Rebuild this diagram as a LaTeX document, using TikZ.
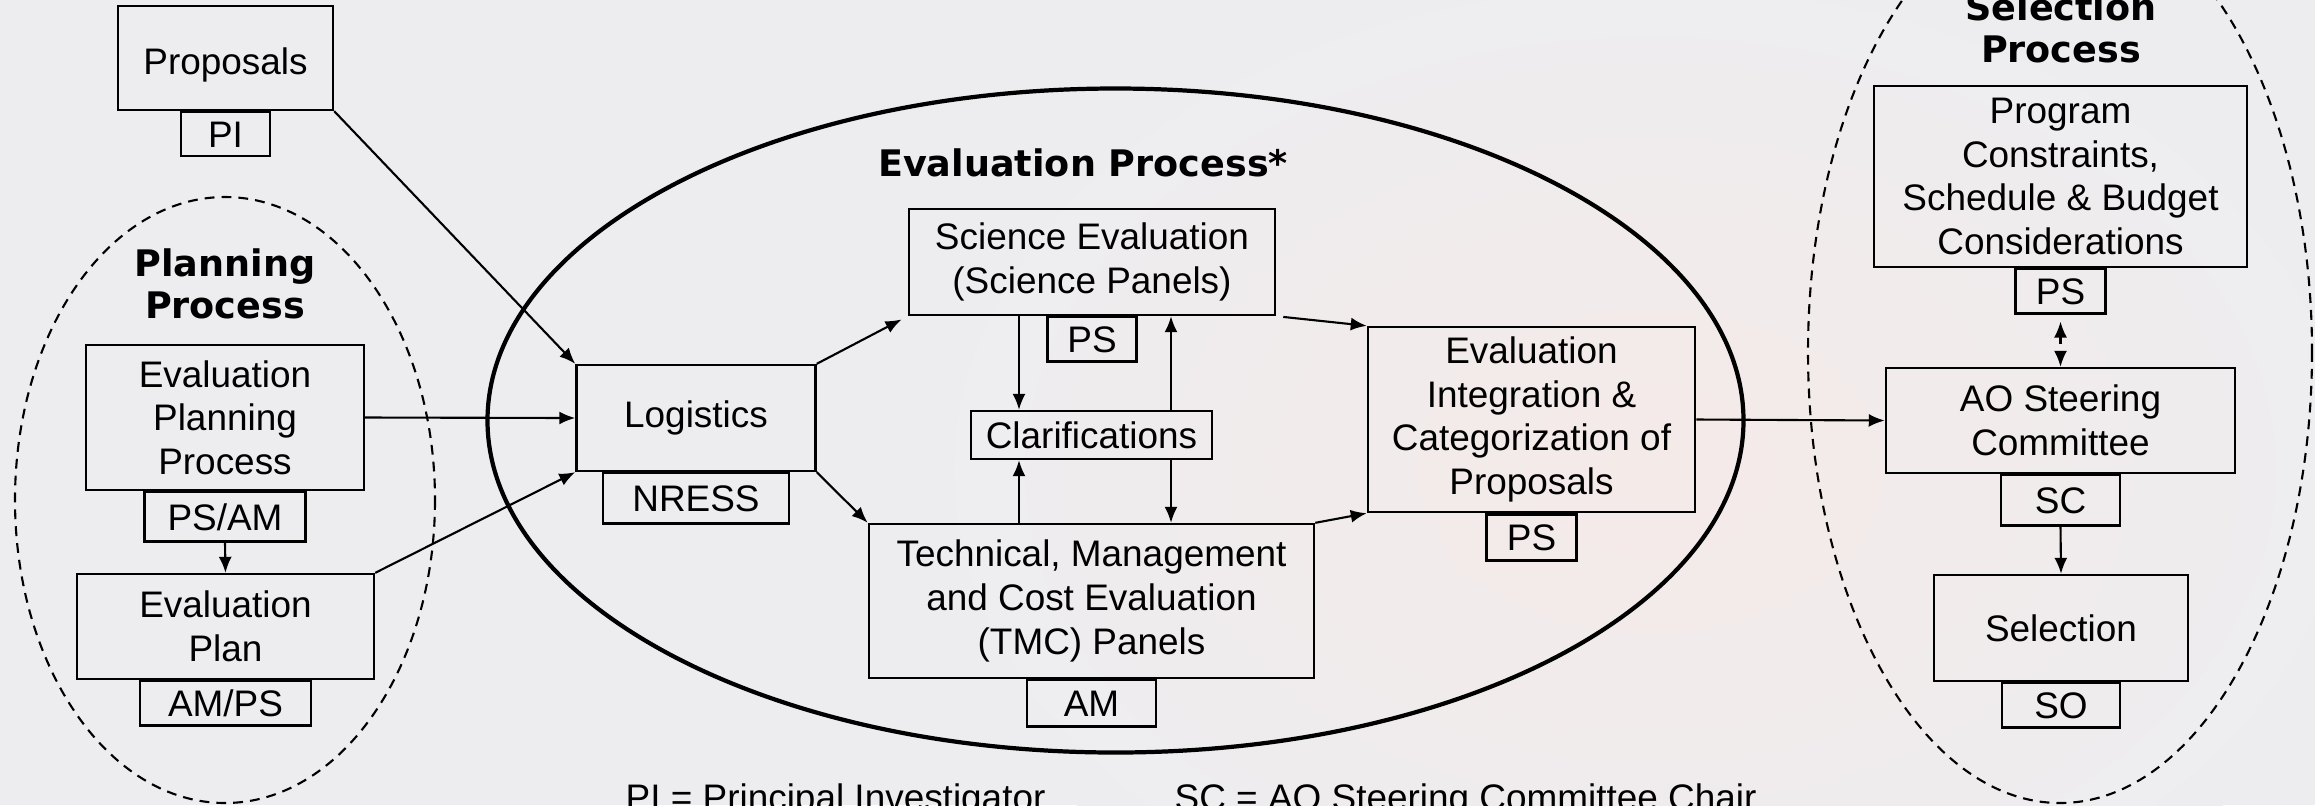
\documentclass[tikz,border=0pt]{standalone}
\usepackage{fontspec}
\setmainfont{Liberation Sans}
\newfontfamily\headfont{DejaVu Sans}
\usetikzlibrary{positioning,arrows.meta}
\definecolor{bggray}{RGB}{237,237,240}
\definecolor{bgpink}{RGB}{244,234,232}
\tikzset{
  box/.style={draw,line width=0.65pt,align=center,inner sep=0pt,
    font=\fontsize{10.5}{12.4}\selectfont},
  tag/.style={box,below=0pt of #1},
  tip/.tip={Latex[length=0.16cm,width=0.13cm]},
  arr/.style={-tip,line width=0.6pt},
  head/.style={font=\headfont\bfseries\fontsize{10.4}{11.9}\selectfont,
    align=center,inner sep=0pt},
  proc/.style={line width=0.6pt,dash pattern=on 2.8pt off 2pt}
}
\begin{document}
\begin{tikzpicture}[x=0.01cm,y=-0.01cm]

 \path[use as bounding box,fill=bggray] (0,0) rectangle (2315,805);
 \shade[inner color=bgpink,outer color=bggray] (1650,470) ellipse [x radius=750,y radius=520];

 % process outlines
 \draw[proc] (225,500) ellipse [x radius=210,y radius=303];
 \draw[line width=1.2pt] (1115.5,420.5) ellipse [x radius=628,y radius=332];
 \draw[proc] (2060,352) ellipse [x radius=252,y radius=451];

 \node[head,anchor=north] (planhead) at (225,248) {Planning\\Process};
 \node[head,anchor=base] (evalhead) at (1083,176) {Evaluation Process*};
 \node[head,anchor=north] (selhead) at (2061,-8) {Selection\\Process};

 \node[box,minimum width=2.15cm,minimum height=1.04cm,text height=0.41cm,text depth=0.08cm] (prop) at (225.5,58) {Proposals};
 \node[tag=prop,minimum width=0.89cm,minimum height=0.44cm] (pi) {PI};

 \node[box,minimum width=2.78cm,minimum height=1.45cm] (evplan) at (225,417.5) {Evaluation\\Planning\\Process};
 \node[tag=evplan,minimum width=1.61cm,minimum height=0.49cm] (psam) {PS/AM};
 \node[box,minimum width=2.97cm,minimum height=1.05cm] (plan) at (225.5,626.5) {Evaluation\\Plan};
 \node[tag=plan,minimum width=1.71cm,minimum height=0.44cm] (amps) {AM/PS};

 \node[box,minimum width=2.39cm,minimum height=1.06cm] (logi) at (696,418) {Logistics};
 \node[tag=logi,minimum width=1.86cm,minimum height=0.50cm] (nress) {NRESS};
 \node[box,minimum width=3.66cm,minimum height=1.06cm] (sci) at (1092,262) {Science Evaluation\\(Science Panels)};
 \node[tag=sci,minimum width=0.89cm,minimum height=0.44cm] (ps1) {PS};
 \node[box,minimum width=2.41cm,minimum height=0.48cm] (clar) at (1091.5,435) {Clarifications};
 \node[box,minimum width=4.45cm,minimum height=1.54cm] (tmc) at (1091.5,601) {Technical, Management\\and Cost Evaluation\\(TMC) Panels};
 \node[tag=tmc,minimum width=1.29cm,minimum height=0.46cm] (am) {AM};
 \node[box,minimum width=3.27cm,minimum height=1.85cm] (integ) at (1531.5,419.5) {Evaluation\\Integration \&\\Categorization of\\Proposals};
 \node[tag=integ,minimum width=0.90cm,minimum height=0.46cm] (ps2) {PS};

 \node[box,minimum width=3.73cm,minimum height=1.81cm] (prog) at (2060.5,176.5) {Program\\Constraints,\\Schedule \& Budget\\Considerations};
 \node[tag=prog,minimum width=0.90cm,minimum height=0.44cm] (ps3) {PS};
 \node[box,minimum width=3.49cm,minimum height=1.05cm] (aosc) at (2060.5,420.5) {AO Steering\\Committee};
 \node[tag=aosc,minimum width=1.19cm,minimum height=0.50cm] (sc) {SC};
 \node[box,minimum width=2.54cm,minimum height=1.06cm] (sel) at (2061,628) {Selection};
 \node[tag=sel,minimum width=1.18cm,minimum height=0.44cm] (so) {SO};

 \node[font=\fontsize{10.5}{12.4}\selectfont,anchor=base west,inner sep=0pt] (legpi) at (625,810) {PI = Principal Investigator};
 \node[font=\fontsize{10.5}{12.4}\selectfont,anchor=base west,inner sep=0pt] (legsc) at (1174,810) {SC = AO Steering Committee Chair};

 \coordinate (xl) at (1019,0);
 \coordinate (xr) at (1171,0);

 \draw[arr] (prop.south east) -- (logi.north west);
 \draw[arr] (evplan.east) -- (logi.west);
 \draw[arr] (plan.north east) -- (logi.south west);
 \draw[arr] (psam.south) -- (plan.north);
 \draw[arr,shorten >=2pt] (logi.north east) -- (sci.south west);
 \draw[arr] (logi.south east) -- (tmc.north west);
 \draw[arr] (sci.south -| xl) -- (clar.north -| xl);
 \draw[arr] (clar.north -| xr) -- (sci.south -| xr);
 \draw[arr] (tmc.north -| xl) -- (clar.south -| xl);
 \draw[arr] (clar.south -| xr) -- (tmc.north -| xr);
 \draw[arr,shorten <=2pt] (sci.south east) -- (integ.north west);
 \draw[arr] (tmc.north east) -- (integ.south west);
 \draw[arr] (integ.east) -- (aosc.west);
 \draw[tip-tip,line width=0.6pt,dash pattern=on 2pt off 2pt,shorten <=2pt] (ps3.south) -- (aosc.north);
 \draw[arr] (sc.south) -- (sel.north);

\end{tikzpicture}
\end{document}
